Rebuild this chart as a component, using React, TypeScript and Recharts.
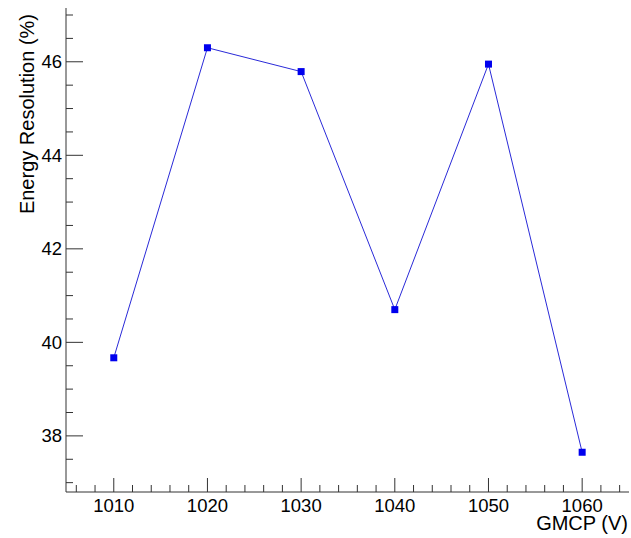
import React from 'react';
import { LineChart, Line, XAxis, YAxis } from 'recharts';

const gmcp = [1010, 1020, 1030, 1040, 1050, 1060];
const resolution = [39.67, 46.3, 45.79, 40.7, 45.95, 37.65];

const xMajorTicks = [1010, 1020, 1030, 1040, 1050, 1060];
const xAllTicks = [
  1006, 1008, 1010, 1012, 1014, 1016, 1018, 1020, 1022, 1024, 1026, 1028, 1030,
  1032, 1034, 1036, 1038, 1040, 1042, 1044, 1046, 1048, 1050, 1052, 1054, 1056,
  1058, 1060, 1062, 1064,
];
const yMajorTicks = [38, 40, 42, 44, 46];
const yAllTicks = [
  37, 37.5, 38, 38.5, 39, 39.5, 40, 40.5, 41, 41.5, 42, 42.5, 43, 43.5, 44, 44.5,
  45, 45.5, 46, 46.5, 47,
];

const xTitle = 'GMCP (V)';
const yTitle = 'Energy Resolution (%)';

const data = gmcp.map((g, i) => ({ gmcp: g, res: resolution[i] }));

const FONT = '"Liberation Sans", Arial, Helvetica, sans-serif';
const AXIS_COLOR = '#333333';

const XTick = (props: any) => {
  const { x, y, payload } = props;
  const major = xMajorTicks.includes(payload.value);
  return (
    <g>
      <line x1={x} x2={x} y1={y} y2={y - (major ? 14 : 7)} stroke={AXIS_COLOR} strokeWidth={1} />
      {major && (
        <text x={x} y={y + 20} textAnchor="middle" fontSize={18.5} fontFamily={FONT} fill="#000">
          {payload.value}
        </text>
      )}
    </g>
  );
};

const YTick = (props: any) => {
  const { x, y, payload } = props;
  const major = yMajorTicks.includes(payload.value);
  return (
    <g>
      <line x1={x} x2={x + (major ? 17 : 7)} y1={y} y2={y} stroke={AXIS_COLOR} strokeWidth={1} />
      {major && (
        <text x={x - 4} y={y + 6.5} textAnchor="end" fontSize={18.5} fontFamily={FONT} fill="#000">
          {payload.value}
        </text>
      )}
    </g>
  );
};

const SquareDot = (props: any) => {
  const { cx, cy } = props;
  if (cx == null || cy == null) return null;
  return <rect x={cx - 3.5} y={cy - 3.5} width={7} height={7} fill="#0000ee" />;
};

export default function App() {
  return (
    <div style={{ position: 'absolute', left: 0, top: 0 }}>
      <LineChart
        width={631}
        height={538}
        data={data}
        margin={{ top: 8, right: 2, left: 0, bottom: 0 }}
      >
        <XAxis
          dataKey="gmcp"
          type="number"
          domain={[1004.9, 1065]}
          allowDataOverflow
          ticks={xAllTicks}
          interval={0}
          height={46}
          tickSize={0}
          tickMargin={0}
          tickLine={false}
          axisLine={{ stroke: AXIS_COLOR, strokeWidth: 1 }}
          tick={<XTick />}
          label={{
            content: (p: any) => {
              const vb = p.viewBox;
              return (
                <text
                  x={vb.x + vb.width - 1}
                  y={530}
                  textAnchor="end"
                  fontSize={20}
                  fontFamily={FONT}
                  fill="#000"
                >
                  {xTitle}
                </text>
              );
            },
          }}
        />
        <XAxis
          xAxisId="top"
          orientation="top"
          dataKey="gmcp"
          type="number"
          domain={[1004.9, 1065]}
          allowDataOverflow
          height={0}
          tick={false}
          tickLine={false}
          axisLine={{ stroke: AXIS_COLOR, strokeWidth: 1 }}
        />
        <YAxis
          type="number"
          domain={[36.8, 47.15]}
          allowDataOverflow
          ticks={yAllTicks}
          interval={0}
          width={66}
          tickSize={0}
          tickMargin={0}
          tickLine={false}
          axisLine={{ stroke: AXIS_COLOR, strokeWidth: 1 }}
          tick={<YTick />}
          label={{
            content: (p: any) => {
              const vb = p.viewBox;
              const tx = 34;
              const ty = 14;
              return (
                <text
                  x={tx}
                  y={ty}
                  transform={`rotate(-90 ${tx} ${ty})`}
                  textAnchor="end"
                  fontSize={20}
                  fontFamily={FONT}
                  fill="#000"
                >
                  {yTitle}
                </text>
              );
            },
          }}
        />
        <YAxis
          yAxisId="right"
          orientation="right"
          type="number"
          domain={[36.8, 47.15]}
          allowDataOverflow
          width={0}
          tick={false}
          tickLine={false}
          axisLine={{ stroke: AXIS_COLOR, strokeWidth: 1 }}
        />
        <Line
          dataKey="res"
          stroke="#2a2ad8"
          strokeWidth={1}
          dot={<SquareDot />}
          activeDot={false}
          isAnimationActive={false}
        />
      </LineChart>
    </div>
  );
}
